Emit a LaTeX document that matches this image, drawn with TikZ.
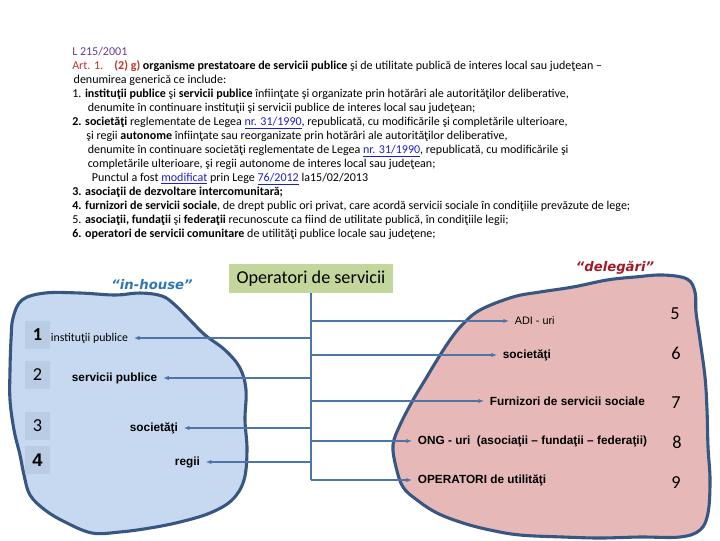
\documentclass[tikz,border=0pt]{standalone}
\usepackage{fontspec}
\setmainfont{Carlito}
\newfontfamily\arialfont{Liberation Sans}
\newfontfamily\verdfont{DejaVu Sans}
\usetikzlibrary{arrows.meta, positioning, calc}

\definecolor{fillA}{RGB}{198,217,241}
\definecolor{fillR}{RGB}{230,185,184}
\definecolor{contur}{RGB}{56,86,130}
\definecolor{verde}{RGB}{195,214,155}
\definecolor{linie}{RGB}{79,116,168}
\definecolor{cutienr}{RGB}{184,204,228}
\definecolor{inhouse}{RGB}{46,117,182}
\definecolor{deleg}{RGB}{160,25,40}
\definecolor{mov}{RGB}{100,60,150}
\definecolor{rosu}{RGB}{192,50,40}
\definecolor{link}{RGB}{30,30,200}

\newcommand{\lnk}[1]{\textcolor{link}{\underline{#1}}}

\begin{document}
\begin{tikzpicture}[
        x=0.025cm, y=-0.025cm,
        >={Latex[length=4pt,width=3.2pt]},
        line/.style={->, draw=linie, line width=1.4pt},
        bara/.style={draw=linie, line width=1.4pt},
        contur/.style={draw=contur, line width=2.2pt},
        elemB/.style={font=\arialfont\bfseries\fontsize{8.4}{9}\selectfont, inner xsep=4pt, inner ysep=1pt},
        elemN/.style={font=\arialfont\fontsize{7.7}{9}\selectfont, inner xsep=4pt, inner ysep=1pt},
        elemC/.style={font=\fontsize{8.4}{9}\selectfont, inner xsep=4pt, inner ysep=1pt},
        cutie/.style={fill=cutienr, minimum width=17.8pt, minimum height=20.6pt, inner sep=0pt, font=\fontsize{13}{13}\selectfont},
        numar/.style={font=\fontsize{13}{13}\selectfont, inner sep=0pt},
        titlu/.style={font=\verdfont\bfseries\itshape\fontsize{9.4}{10}\selectfont}
    ]
        \useasboundingbox (0,0) rectangle (720,540);

        % ================= TEXTUL LEGII =================
        \node[anchor=north west, align=left, inner sep=0pt,
              font=\fontsize{8.55}{9.96}\selectfont] (lege) at (72,47) {%
            {\color{mov}L 215/2001}\\
            {\color{rosu}Art. 1.\hspace{8pt}\textbf{(2) g)}} \textbf{organisme prestatoare de servicii publice} şi de utilitate publică de interes local sau judeţean –\\
            \hspace{1pt}denumirea generică ce include:\\
            1. \textbf{instituţii publice} şi \textbf{servicii publice} înfiinţate şi organizate prin hotărâri ale autorităţilor deliberative,\\
            \hspace{11pt}denumite în continuare instituţii şi servicii publice de interes local sau judeţean;\\
            \textbf{2. societăţi} reglementate de Legea \lnk{nr. 31/1990}, republicată, cu modificările şi completările ulterioare,\\
            \hspace{10pt}şi regii \textbf{autonome} înfiinţate sau reorganizate prin hotărâri ale autorităţilor deliberative,\\
            \hspace{11pt}denumite în continuare societăţi reglementate de Legea \lnk{nr. 31/1990}, republicată, cu modificările şi\\
            \hspace{11pt}completările ulterioare, şi regii autonome de interes local sau judeţean;\\
            \hspace{14pt}Punctul a fost \lnk{modificat} prin Lege \lnk{76/2012} la15/02/2013\\
            \textbf{3. asociaţii de dezvoltare intercomunitară;}\\
            \textbf{4. furnizori de servicii sociale}, de drept public ori privat, care acordă servicii sociale în condiţiile prevăzute de lege;\\
            5. \textbf{asociaţii, fundaţii} şi \textbf{federaţii} recunoscute ca fiind de utilitate publică, în condiţiile legii;\\
            \textbf{6. operatori de servicii comunitare} de utilităţi publice locale sau judeţene;};

        % ================= ZONE =================
        % in-house
        \draw[contur, fill=fillA] plot[smooth cycle, tension=0.6] coordinates {
            (13,318) (22,300) (45,293) (80,293) (115,295) (140,293) (162,296) (175,305)
            (190,320) (205,335) (225,350) (240,368) (246,390) (245,420) (247,450) (244,480)
            (232,500) (210,513) (180,522) (150,528) (120,532) (92,533) (65,522) (45,510)
            (30,495) (24,475) (20,455) (14,430) (10,400) (10,370) (11,340)};
        % delegari
        \draw[contur, fill=fillR] plot[smooth cycle, tension=0.6] coordinates {
            (480,310) (513,297) (540,292) (573,287) (607,280) (635,277) (663,275) (687,279)
            (695,292) (696,312) (700,340) (705,377) (707,410) (708,447) (710,480) (708,513)
            (700,530) (680,537) (640,537) (600,538) (563,537) (520,535) (490,530) (463,523)
            (437,513) (417,500) (403,487) (396,467) (393,445) (400,425) (413,400) (425,380)
            (437,360) (450,340) (462,325)};

        \node[titlu, text=inhouse] (inh) at (152,285) {“in-house”};
        \node[titlu, text=deleg] (del) at (615,268) {“delegări”};

        % ================= OPERATORI =================
        \node[fill=verde, minimum width=116.7pt, minimum height=20.6pt, inner sep=0pt,
              font=\fontsize{12.9}{14}\selectfont] (ops) at (311,278.5) {Operatori de servicii};

        % Numere stanga
        \node[cutie] (n1) at (37.5,335) {\textbf{1}};
        \node[cutie] (n2) at (37.5,375) {2};
        \node[cutie] (n3) at (37.5,426) {3};
        \node[cutie] (n4) at (37.5,460) {\arialfont\bfseries 4};

        % Elemente in-house
        \node[elemC, anchor=west] (inst) at (45,338) {instituţii publice};
        \node[elemB, anchor=west] (serv) at (66,378) {servicii publice};
        \node[elemB, anchor=west] (socL) at (124,428) {societăţi};
        \node[elemB, anchor=west] (regii) at (169,462) {regii};

        % Elemente delegari
        \node[elemN, anchor=west] (adi) at (509,321) {ADI - uri};
        \node[elemB, anchor=west] (socR) at (497,355) {societăţi};
        \node[elemB, anchor=west] (furn) at (484,401) {Furnizori de servicii sociale};
        \node[elemB, anchor=west] (ong) at (412,441) {ONG - uri\ \ (asociaţii – fundaţii – federaţii)};
        \node[elemB, anchor=west] (oper) at (412,480) {OPERATORI de utilităţi};

        % Numere dreapta
        \node[numar] (n5) at (675,314) {5};
        \node[numar] (n6) at (676,353) {6};
        \node[numar] (n7) at (676,403) {7};
        \node[numar] (n8) at (677,442) {8};
        \node[numar] (n9) at (676,483) {9};

        % ================= LEGATURI =================
        \draw[bara] (ops.south) -- (ops.south |- oper);

        \draw[line] (ops.south |- inst) -- (inst.east);
        \draw[line] (ops.south |- serv) -- (serv.east);
        \draw[line] (ops.south |- socL) -- (socL.east);
        \draw[line] (ops.south |- regii) -- (regii.east);

        \draw[line] (ops.south |- adi) -- (adi.west);
        \draw[line] (ops.south |- socR) -- (socR.west);
        \draw[line] (ops.south |- furn) -- (furn.west);
        \draw[line] (ops.south |- ong) -- (ong.west);
        \draw[line] (ops.south |- oper) -- (oper.west);

    \end{tikzpicture}
\end{document}
